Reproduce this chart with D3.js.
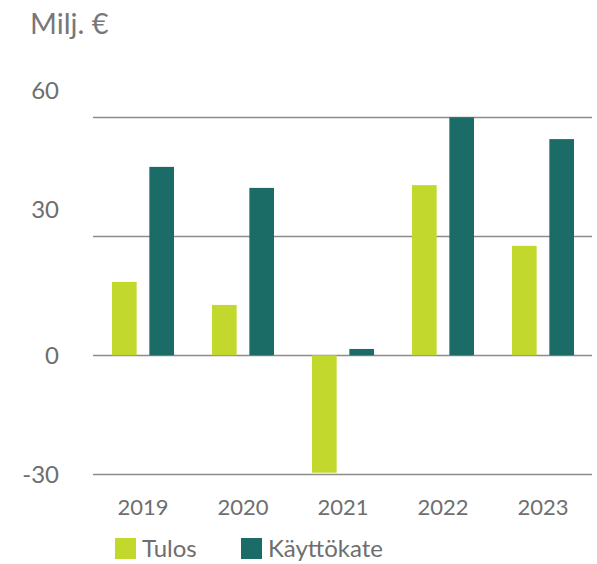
<!DOCTYPE html>
<html>
<head>
<meta charset="utf-8">
<script src="https://cdn.jsdelivr.net/npm/d3@7"></script>
<style>
  body { margin: 0; background: #fff; }
  text { font-family: Lato, "Open Sans", sans-serif; }
</style>
</head>
<body>
<div id="chart"></div>
<script>
// data
var years = ["2019", "2020", "2021", "2022", "2023"];
var seriesNames = ["Tulos", "Käyttökate"];
var tulos = [18.5, 12.7, -29.6, 42.9, 27.6];
var kayttokate = [47.5, 42.2, 1.6, 60, 54.5];
var yTicks = [60, 30, 0, -30];

var colors = {"Tulos": "#c3d82d", "Käyttökate": "#1b6b66"};

var width = 597, height = 564;

var svg = d3.select("#chart")
  .append("svg")
    .attr("width", width)
    .attr("height", height);

// scales
var y = d3.scaleLinear()
  .domain([-30, 60])
  .range([474.3, 117.3]);

var x0 = d3.scaleBand()
  .domain(years)
  .range([93, 593])
  .paddingInner(0.38)
  .paddingOuter(0.19);

var x1 = d3.scaleBand()
  .domain(seriesNames)
  .range([0, x0.bandwidth()])
  .paddingInner(0.34);

// title
svg.append("text")
  .attr("x", 30)
  .attr("y", 34)
  .style("font-size", "29px")
  .style("fill", "#777")
  .text("Milj. €");

// gridlines
svg.selectAll("line.grid")
  .data(yTicks)
  .enter()
  .append("line")
    .attr("class", "grid")
    .attr("x1", 93)
    .attr("x2", 592)
    .attr("y1", function(d) { return Math.round(y(d)) + 0.5; })
    .attr("y2", function(d) { return Math.round(y(d)) + 0.5; })
    .attr("stroke", "#8c8c8c")
    .attr("stroke-width", 1.3);

// y labels (positive ones sit above their line)
svg.selectAll("text.ylab")
  .data(yTicks)
  .enter()
  .append("text")
    .attr("class", "ylab")
    .attr("x", 59)
    .attr("y", function(d) { return y(d) + (d > 0 ? -27 : 0); })
    .attr("dy", "0.36em")
    .attr("text-anchor", "end")
    .style("font-size", "24px")
    .style("fill", "#6e6e6e")
    .text(function(d) { return d; });

// bars
var rows = years.map(function(yr, i) {
  return {year: yr, values: [
    {key: "Tulos", value: tulos[i]},
    {key: "Käyttökate", value: kayttokate[i]}
  ]};
});

var groups = svg.selectAll("g.year")
  .data(rows)
  .enter()
  .append("g")
    .attr("class", "year")
    .attr("transform", function(d) { return "translate(" + x0(d.year) + ",0)"; });

groups.selectAll("rect")
  .data(function(d) { return d.values; })
  .enter()
  .append("rect")
    .attr("x", function(d) { return x1(d.key); })
    .attr("width", x1.bandwidth())
    .attr("y", function(d) { return y(Math.max(0, d.value)); })
    .attr("height", function(d) { return Math.abs(y(d.value) - y(0)); })
    .attr("fill", function(d) { return colors[d.key]; });

// x labels
svg.selectAll("text.xlab")
  .data(years)
  .enter()
  .append("text")
    .attr("class", "xlab")
    .attr("x", function(d) { return x0(d) + x0.bandwidth() / 2; })
    .attr("y", 515)
    .attr("text-anchor", "middle")
    .style("font-size", "22px")
    .style("fill", "#6e6e6e")
    .text(function(d) { return d; });

// legend
var legendX = [115, 241];
var legend = svg.selectAll("g.legend")
  .data(seriesNames)
  .enter()
  .append("g")
    .attr("class", "legend")
    .attr("transform", function(d, i) { return "translate(" + legendX[i] + ",538)"; });

legend.append("rect")
  .attr("width", 21)
  .attr("height", 21)
  .attr("fill", function(d) { return colors[d]; });

legend.append("text")
  .attr("x", 27)
  .attr("y", 19)
  .style("font-size", "24px")
  .style("fill", "#6e6e6e")
  .text(function(d) { return d; });
</script>
</body>
</html>
